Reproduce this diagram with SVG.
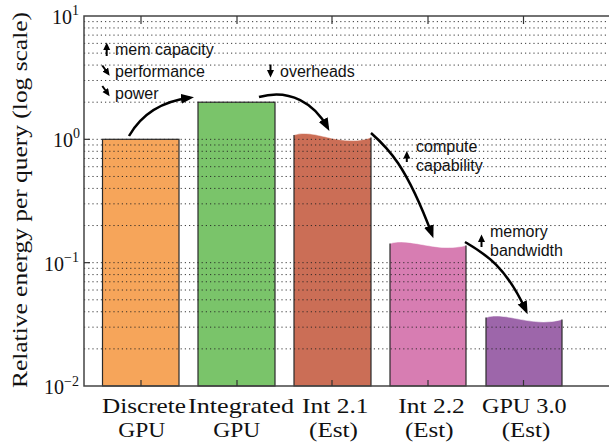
<svg xmlns="http://www.w3.org/2000/svg" width="609" height="443" viewBox="0 0 609 443">
  <defs>
    <style>
      .grid line { stroke: #222; stroke-width: 0.9; stroke-dasharray: 1.2 3; }
      .spine { stroke: #444; stroke-width: 1.5; fill: none; }
      .tick { stroke: #333; stroke-width: 1.2; }
      .edge { stroke: #2a2a2a; stroke-width: 1.2; fill: none; }
      .wave { stroke: #ffffff; stroke-opacity: 0.55; stroke-width: 1; fill: none; }
      .flow { stroke: #000; stroke-width: 2.5; fill: none; marker-end: url(#head); }
      .hint { stroke: #000; stroke-width: 2; fill: none; marker-end: url(#smallhead); }
      .serif { font-family: "Liberation Serif", "Times New Roman", serif; fill: #111; }
      .note { font-family: "Liberation Sans", Arial, sans-serif; font-size: 16px; fill: #111; }
      .xlab { font-size: 22px; }
    </style>
    <marker id="head" markerUnits="userSpaceOnUse" markerWidth="14" markerHeight="12" refX="9" refY="5" orient="auto">
      <path d="M0,0 L13,5 L0,10 Z" fill="#000"/>
    </marker>
    <marker id="smallhead" markerUnits="userSpaceOnUse" markerWidth="9" markerHeight="8" refX="3" refY="3.5" orient="auto">
      <path d="M0,0 L7.5,3.5 L0,7 Z" fill="#000"/>
    </marker>
  </defs>

  <rect width="609" height="443" fill="#ffffff"/>

  <!-- bars -->
  <g id="bar-discrete">
    <rect x="102.5" y="139.3" width="76.5" height="246.7" fill="#F6A55A" stroke="#2a2a2a" stroke-width="1.2"/>
  </g>
  <g id="bar-integrated">
    <rect x="198" y="102.2" width="77" height="283.8" fill="#7AC46A" stroke="#2a2a2a" stroke-width="1.2"/>
  </g>
  <g id="bar-int21">
    <path d="M294,386 L294,135 C315,128 340,148 371,137.5 L371,386 Z" fill="#CB6E56"/>
    <path class="wave" d="M294,135 C315,128 340,148 371,137.5"/>
    <path class="edge" d="M294,135 L294,386 L371,386 L371,137.5"/>
  </g>
  <g id="bar-int22">
    <path d="M390,386 L390,243.5 C410,237 435,253 466,245.5 L466,386 Z" fill="#D77DB2"/>
    <path class="wave" d="M390,243.5 C410,237 435,253 466,245.5"/>
    <path class="edge" d="M390,243.5 L390,386 L466,386 L466,245.5"/>
  </g>
  <g id="bar-gpu30">
    <path d="M486,386 L486,317.5 C506,311 531,328 562,319.5 L562,386 Z" fill="#9D66AA"/>
    <path class="wave" d="M486,317.5 C506,311 531,328 562,319.5"/>
    <path class="edge" d="M486,317.5 L486,386 L562,386 L562,319.5"/>
  </g>

  <!-- log-scale grid: every k*10^n -->
  <g class="grid">
    <line x1="84" x2="609" y1="348.87" y2="348.87"/>
    <line x1="84" x2="609" y1="327.16" y2="327.16"/>
    <line x1="84" x2="609" y1="311.75" y2="311.75"/>
    <line x1="84" x2="609" y1="299.8" y2="299.8"/>
    <line x1="84" x2="609" y1="290.03" y2="290.03"/>
    <line x1="84" x2="609" y1="281.78" y2="281.78"/>
    <line x1="84" x2="609" y1="274.62" y2="274.62"/>
    <line x1="84" x2="609" y1="268.31" y2="268.31"/>
    <line x1="84" x2="609" y1="262.67" y2="262.67"/>
    <line x1="84" x2="609" y1="225.54" y2="225.54"/>
    <line x1="84" x2="609" y1="203.83" y2="203.83"/>
    <line x1="84" x2="609" y1="188.42" y2="188.42"/>
    <line x1="84" x2="609" y1="176.47" y2="176.47"/>
    <line x1="84" x2="609" y1="166.7" y2="166.7"/>
    <line x1="84" x2="609" y1="158.45" y2="158.45"/>
    <line x1="84" x2="609" y1="151.29" y2="151.29"/>
    <line x1="84" x2="609" y1="144.98" y2="144.98"/>
    <line x1="84" x2="609" y1="139.33" y2="139.33"/>
    <line x1="84" x2="609" y1="102.2" y2="102.2"/>
    <line x1="84" x2="609" y1="80.49" y2="80.49"/>
    <line x1="84" x2="609" y1="65.08" y2="65.08"/>
    <line x1="84" x2="609" y1="53.13" y2="53.13"/>
    <line x1="84" x2="609" y1="43.36" y2="43.36"/>
    <line x1="84" x2="609" y1="35.11" y2="35.11"/>
    <line x1="84" x2="609" y1="27.95" y2="27.95"/>
    <line x1="84" x2="609" y1="21.64" y2="21.64"/>
  </g>

  <!-- axes frame and ticks -->
  <g id="axes">
    <path class="spine" d="M609,16 L84,16 L84,386 L609,386"/>
    <line class="tick" x1="84" x2="90" y1="139.33" y2="139.33"/>
    <line class="tick" x1="84" x2="90" y1="262.67" y2="262.67"/>
    <line class="tick" x1="141" x2="141" y1="386" y2="380"/>
    <line class="tick" x1="237" x2="237" y1="386" y2="380"/>
    <line class="tick" x1="332" x2="332" y1="386" y2="380"/>
    <line class="tick" x1="428" x2="428" y1="386" y2="380"/>
    <line class="tick" x1="523.5" x2="523.5" y1="386" y2="380"/>
    <line class="tick" x1="141" x2="141" y1="16" y2="24"/>
    <line class="tick" x1="237" x2="237" y1="16" y2="24"/>
    <line class="tick" x1="332" x2="332" y1="16" y2="24"/>
    <line class="tick" x1="428" x2="428" y1="16" y2="24"/>
    <line class="tick" x1="523.5" x2="523.5" y1="16" y2="24"/>
  </g>

  <!-- y tick labels -->
  <g id="yticks" class="serif">
    <text x="79" y="23.5" text-anchor="end" font-size="20">10<tspan font-size="14" dy="-8.5">1</tspan></text>
    <text x="80" y="146.8" text-anchor="end" font-size="20">10<tspan font-size="14" dy="-8.8">0</tspan></text>
    <text x="79" y="270.5" text-anchor="end" font-size="20">10<tspan font-size="14" dy="-8.5">−1</tspan></text>
    <text x="79" y="394" text-anchor="end" font-size="20">10<tspan font-size="14" dy="-8.5">−2</tspan></text>
  </g>

  <!-- y axis title -->
  <g id="ytitle">
    <text class="serif" font-size="21.5" text-anchor="middle" transform="translate(27,200) rotate(-90)" textLength="376" lengthAdjust="spacingAndGlyphs">Relative energy per query (log scale)</text>
  </g>

  <!-- category labels -->
  <g id="xlabels" class="serif xlab">
    <text x="102" y="413" textLength="84" lengthAdjust="spacingAndGlyphs">Discrete</text>
    <text x="118.3" y="437" textLength="47" lengthAdjust="spacingAndGlyphs">GPU</text>
    <text x="188" y="413" textLength="106" lengthAdjust="spacingAndGlyphs">Integrated</text>
    <text x="213.3" y="437" textLength="47" lengthAdjust="spacingAndGlyphs">GPU</text>
    <text x="302" y="413" textLength="66.5" lengthAdjust="spacingAndGlyphs">Int 2.1</text>
    <text x="309" y="437" textLength="49" lengthAdjust="spacingAndGlyphs">(Est)</text>
    <text x="398.3" y="413" textLength="66.5" lengthAdjust="spacingAndGlyphs">Int 2.2</text>
    <text x="405" y="437" textLength="48.5" lengthAdjust="spacingAndGlyphs">(Est)</text>
    <text x="482" y="413" textLength="84.5" lengthAdjust="spacingAndGlyphs">GPU 3.0</text>
    <text x="501.7" y="437" textLength="48.5" lengthAdjust="spacingAndGlyphs">(Est)</text>
  </g>

  <!-- transition arrows between bars -->
  <g id="connectors">
    <path class="flow" d="M129,136 Q148,103 190,97.8"/>
    <path class="flow" d="M259,97 C290,88 315,104 327.5,127.5"/>
    <path class="flow" d="M371,133 C388,148 406,165 432,234.5"/>
    <path class="flow" d="M465,242 C485,254 505,265 526,310.5"/>
  </g>

  <!-- change annotations -->
  <g id="note-integrated">
    <path class="hint" d="M106.7,56 L106.7,47"/>
    <path class="hint" d="M102.3,65.5 L107,72"/>
    <path class="hint" d="M102.3,86 L107,92.5"/>
    <text class="note" x="115" y="55">mem capacity</text>
    <text class="note" x="115" y="77.3">performance</text>
    <text class="note" x="115" y="99">power</text>
  </g>
  <g id="note-overheads">
    <path class="hint" d="M270.5,64.5 L270.5,73"/>
    <text class="note" x="280" y="77.3">overheads</text>
  </g>
  <g id="note-compute">
    <path class="hint" d="M406.8,162 L406.8,155.5"/>
    <text class="note" x="416" y="152">compute</text>
    <text class="note" x="416" y="171">capability</text>
  </g>
  <g id="note-memory">
    <path class="hint" d="M481.5,247 L481.5,239"/>
    <text class="note" x="490" y="237">memory</text>
    <text class="note" x="490" y="256">bandwidth</text>
  </g>
</svg>
